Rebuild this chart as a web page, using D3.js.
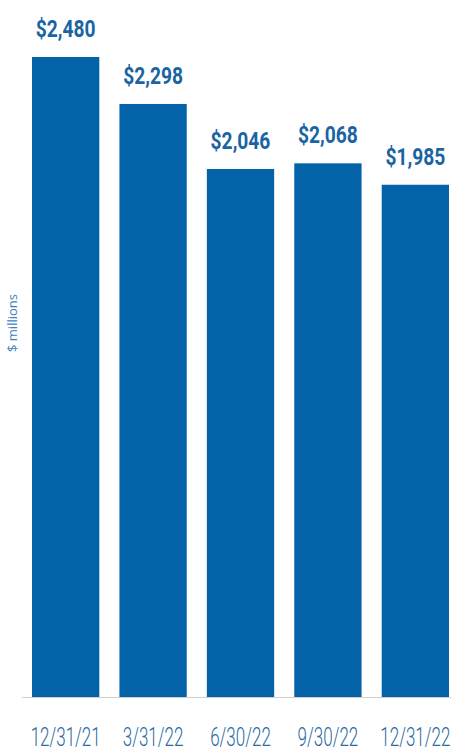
<!DOCTYPE html>
<html>
<head>
<meta charset="utf-8">
<script src="https://cdn.jsdelivr.net/npm/d3@7"></script>
<style>
  body { margin: 0; background: #fff; }
  svg { display: block; }
</style>
</head>
<body>
<div id="chart"></div>
<script>
// quarter-end dates and balances ($ millions)
var dates = ["12/31/21", "3/31/22", "6/30/22", "9/30/22", "12/31/22"];
var values = [2480, 2298, 2046, 2068, 1985];
var valueLabels = ["$2,480", "$2,298", "$2,046", "$2,068", "$1,985"];

var w = 451, h = 753;
var barColor = "#0463a8";
var labelColor = "#1b64a3";

var svg = d3.select("#chart").append("svg")
  .attr("width", w)
  .attr("height", h);

var x = d3.scaleBand()
  .domain(dates)
  .range([32, 449])
  .paddingInner(0.23)
  .paddingOuter(0);

var y = d3.scaleLinear()
  .domain([0, 2480])
  .range([697, 57]);

// bars
svg.selectAll("rect.bar")
  .data(values)
  .enter()
  .append("rect")
  .attr("class", "bar")
  .attr("x", function(d, i) { return x(dates[i]); })
  .attr("y", function(d) { return y(d); })
  .attr("width", x.bandwidth())
  .attr("height", function(d) { return y(0) - y(d); })
  .attr("fill", barColor);

// baseline
svg.append("line")
  .attr("x1", 22).attr("x2", w)
  .attr("y1", y(0) + 0.5).attr("y2", y(0) + 0.5)
  .attr("stroke", "#d0d0d0")
  .attr("stroke-width", 1);

// value labels above bars (condensed look via scaleX)
svg.selectAll("text.val")
  .data(values)
  .enter()
  .append("text")
  .attr("class", "val")
  .attr("transform", function(d, i) {
    return "translate(" + (x(dates[i]) + x.bandwidth() / 2) + "," + (y(d) - 20) + ") scale(0.8,1)";
  })
  .attr("text-anchor", "middle")
  .attr("font-family", "Roboto, 'Liberation Sans', sans-serif")
  .attr("font-weight", "bold")
  .attr("font-size", 24)
  .attr("fill", labelColor)
  .text(function(d, i) { return valueLabels[i]; });

// category labels
svg.selectAll("text.cat")
  .data(dates)
  .enter()
  .append("text")
  .attr("class", "cat")
  .attr("transform", function(d) {
    return "translate(" + (x(d) + x.bandwidth() / 2) + ",746) scale(0.68,1)";
  })
  .attr("text-anchor", "middle")
  .attr("font-family", "Roboto, 'Liberation Sans', sans-serif")
  .attr("font-weight", 300)
  .attr("font-size", 25)
  .attr("fill", "#2b6aa3")
  .text(function(d) { return d; });

// y axis title
svg.append("text")
  .attr("transform", "translate(17,323) rotate(-90)")
  .attr("text-anchor", "middle")
  .attr("font-family", "'Open Sans', sans-serif")
  .attr("font-size", 13)
  .attr("fill", "#3f82c2")
  .text("$ millions");
</script>
</body>
</html>
